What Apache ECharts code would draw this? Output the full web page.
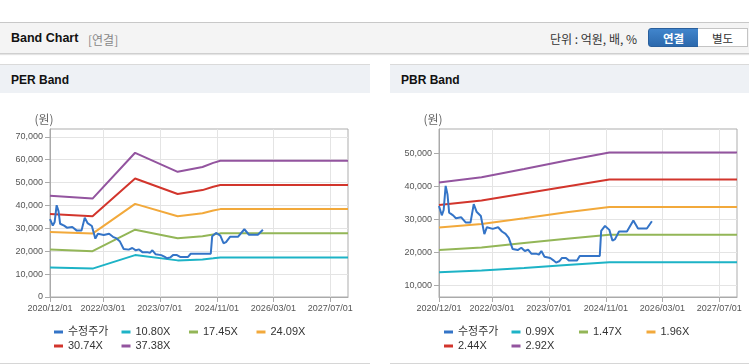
<!DOCTYPE html>
<html>
<head>
<meta charset="utf-8">
<script src="https://cdn.jsdelivr.net/npm/echarts@6/dist/echarts.min.js"></script>
<style>
  body { margin: 0; width: 749px; height: 364px; background: #fff; overflow: hidden; position: relative;
         font-family: "Liberation Sans", "Noto Sans CJK KR", sans-serif; }
  .topbar { position: absolute; left: 0; top: 22px; width: 749px; height: 30px; background: #f4f4f4;
            border-top: 1px solid #c8c8c8; border-bottom: 1px solid #cfcfcf; box-shadow: 0 1px 1px #e4e4e4; }
  .title { position: absolute; left: 11px; top: 8px; font-size: 12.5px; font-weight: bold; color: #111; }
  .sub { position: absolute; left: 88px; top: 8px; font-size: 12px; color: #888; font-family: "Noto Sans CJK KR", sans-serif; }
  .unit { position: absolute; left: 550px; top: 7px; font-size: 12px; color: #333; font-family: "Noto Sans CJK KR", sans-serif; }
  .btn { position: absolute; top: 5px; height: 19px; line-height: 19px; text-align: center; font-size: 11.5px;
         font-family: "Noto Sans CJK KR", sans-serif; box-sizing: border-box; }
  .btn.on { left: 648px; width: 51px; background: linear-gradient(#4185cc, #2c69ad); color: #fff; font-weight: bold;
            border: 1px solid #2a5f9c; border-radius: 3px 0 0 3px; }
  .btn.off { left: 698px; width: 50px; background: #fff; color: #333; border: 1px solid #c4c4c4; border-left: none; }
  .panel { position: absolute; top: 64px; height: 298px; border-top: 1px solid #dadada; border-bottom: 1px solid #d6d6d6; background: #fff; }
  .phead { height: 28px; background: #eef1f5; font-size: 12px; font-weight: bold; color: #111; line-height: 30px; padding-left: 11px; }
  .chart { position: absolute; top: 29px; left: 0; height: 269px; }
</style>
</head>
<body>
<div class="topbar">
  <div class="title">Band Chart</div>
  <div class="sub">[연결]</div>
  <div class="unit">단위 : 억원, 배, %</div>
  <div class="btn on">연결</div>
  <div class="btn off">별도</div>
</div>
<div class="panel" style="left:0;width:370px;">
  <div class="phead">PER Band</div>
  <div id="per" class="chart" style="width:370px;"></div>
</div>
<div class="panel" style="left:390px;width:359px;">
  <div class="phead">PBR Band</div>
  <div id="pbr" class="chart" style="width:359px;"></div>
</div>
<script>
// x axis tick dates (shown as yyyy/MM/dd)
const xTickDates = ['2020-12-01', '2022-03-01', '2023-07-01', '2024-11-01', '2026-03-01', '2027-07-01'];
const xStart = '2020-12-01';
const xEnd = '2027-12-01';

const perYTicks = [0, 10000, 20000, 30000, 40000, 50000, 60000, 70000];
const pbrYTicks = [10000, 20000, 30000, 40000, 50000];

// 수정주가 (adjusted price)
const priceDates = [
  '2020-12-01', '2020-12-25', '2021-01-10', '2021-01-27', '2021-02-12', '2021-02-26', '2021-04-01', '2021-04-25',
  '2021-06-10', '2021-07-19', '2021-08-28', '2021-09-25', '2021-10-19', '2021-11-25', '2021-12-07', '2021-12-25',
  '2022-01-16', '2022-03-07', '2022-04-22', '2022-05-25', '2022-06-25', '2022-07-22', '2022-08-25', '2022-10-07',
  '2022-11-07', '2022-12-07', '2023-01-04', '2023-02-01', '2023-03-13', '2023-04-07', '2023-04-28', '2023-05-25',
  '2023-07-13', '2023-08-13', '2023-09-01', '2023-09-28', '2023-10-22', '2023-11-25', '2023-12-22', '2024-02-28',
  '2024-03-22', '2024-09-10', '2024-09-22', '2024-10-25', '2024-12-01', '2024-12-28', '2025-01-19', '2025-02-22',
  '2025-05-01', '2025-06-25', '2025-08-04', '2025-10-19', '2025-12-01'
];
const priceValues = [
  34000, 31200, 32800, 40100, 37500, 32000, 31200, 30300,
  30600, 29000, 29000, 34600, 32300, 31000, 30600, 25500,
  27600, 27100, 27600, 26300, 25600, 24400, 21000, 20700,
  21400, 20400, 20800, 19600, 19600, 19300, 20400, 18700,
  18300, 17500, 16900, 17300, 18300, 18300, 17500, 17500,
  18900, 18900, 26500, 28000, 26800, 23500, 24000, 26300,
  26300, 29600, 27200, 27200, 29400
];

// PER bands
const perBandNames = ['10.80X', '17.45X', '24.09X', '30.74X', '37.38X'];
const perBandDates = ['2020-12-01', '2021-12-01', '2022-12-01', '2023-12-01', '2024-07-01', '2024-10-01', '2024-12-01', '2027-12-01'];
const per1080 = [12900, 12400, 18300, 16000, 16400, 16900, 17300, 17300];
const per1745 = [20700, 20000, 29400, 25700, 26500, 27300, 27800, 27800];
const per2409 = [28400, 27700, 40700, 35300, 36600, 37800, 38400, 38400];
const per3074 = [36300, 35300, 51800, 45000, 46700, 48200, 48900, 48900];
const per3738 = [44200, 43000, 63000, 54700, 56800, 58600, 59500, 59500];

// PBR bands
const pbrBandNames = ['0.99X', '1.47X', '1.96X', '2.44X', '2.92X'];
const pbrBandDates = ['2020-12-01', '2021-12-01', '2022-12-01', '2023-12-01', '2024-12-01', '2027-12-01'];
const pbr099 = [14000, 14500, 15300, 16200, 17000, 17000];
const pbr147 = [20700, 21500, 22800, 24100, 25300, 25300];
const pbr196 = [27500, 28600, 30300, 32100, 33700, 33700];
const pbr244 = [34300, 35700, 37800, 39900, 42000, 42000];
const pbr292 = [41100, 42700, 45200, 47800, 50200, 50200];

const priceName = '수정주가';
const colors = ['#3474c7', '#1db3c6', '#93b657', '#f2a93b', '#d2352c', '#93549f'];

// dates -> timestamps (value axis in ms)
const ts = (s) => +echarts.time.parse(s);
const zip = (dates, vals) => dates.map((d, i) => [ts(d), vals[i]]);

function buildChart(el, cfg) {
  const chart = echarts.init(el);
  const names = [priceName].concat(cfg.bandNames);
  const series = [
    { name: priceName, type: 'line', data: zip(priceDates, priceValues), z: 5 }
  ].concat(cfg.bands.map((b, i) => ({ name: cfg.bandNames[i], type: 'line', data: zip(cfg.bandDates, b) })))
   .map((s, i) => Object.assign(s, {
      showSymbol: false, symbol: 'none',
      lineStyle: { width: 2, color: colors[i] }, itemStyle: { color: colors[i] }
   }));

  const legendBase = {
    orient: 'horizontal', left: 49, itemWidth: 9, itemHeight: 3, itemGap: 7.5, icon: 'rect',
    textStyle: { fontSize: 11, color: '#333', width: 46, lineHeight: 12, fontFamily: 'Liberation Sans, Noto Sans CJK KR' },
    selectedMode: false
  };

  const xTicks = xTickDates.map(ts);

  chart.setOption({
    animation: false,
    textStyle: { fontFamily: 'Liberation Sans, Noto Sans CJK KR, sans-serif' },
    grid: { left: cfg.left, top: 35, width: 298, height: 168, show: true, borderColor: '#adadad', borderWidth: 1 },
    legend: [
      Object.assign({}, legendBase, { top: 227, data: names.slice(0, 4) }),
      Object.assign({}, legendBase, { top: 241, data: names.slice(4) })
    ],
    xAxis: {
      type: 'value', min: ts(xStart), max: ts(xEnd),
      axisLine: { lineStyle: { color: '#aaa' } },
      axisTick: { show: true, length: 5, lineStyle: { color: '#aaa' }, customValues: xTicks },
      axisLabel: {
        customValues: xTicks, fontSize: 9, color: '#555', margin: 7,
        formatter: (v) => echarts.time.format(v, '{yyyy}/{MM}/{dd}', false)
      },
      splitLine: { show: true, lineStyle: { color: '#e4e4e4' } }
    },
    yAxis: {
      type: 'value', min: cfg.yMin, max: cfg.yMax, interval: cfg.interval,
      name: '(원)', nameLocation: 'end', nameGap: 4,
      nameTextStyle: { color: '#666', fontSize: 12, padding: [0, 12, 0, 0], fontFamily: 'Noto Sans CJK KR' },
      axisLine: { show: true, lineStyle: { color: '#aaa' } },
      axisTick: { show: true, length: 5, lineStyle: { color: '#aaa' }, customValues: cfg.yTicks },
      axisLabel: {
        customValues: cfg.yTicks, fontSize: 9, color: '#555', margin: 7,
        formatter: (v) => Number(v).toLocaleString('en-US')
      },
      splitLine: { show: true, lineStyle: { color: '#e4e4e4' } }
    },
    series: series
  });
  return chart;
}

buildChart(document.getElementById('per'), {
  left: 50, yMin: 0, yMax: 73400, interval: 10000, yTicks: perYTicks,
  bandNames: perBandNames, bandDates: perBandDates, bands: [per1080, per1745, per2409, per3074, per3738]
});
buildChart(document.getElementById('pbr'), {
  left: 49, yMin: 6500, yMax: 57300, interval: undefined, yTicks: pbrYTicks,
  bandNames: pbrBandNames, bandDates: pbrBandDates, bands: [pbr099, pbr147, pbr196, pbr244, pbr292]
});
</script>
</body>
</html>
